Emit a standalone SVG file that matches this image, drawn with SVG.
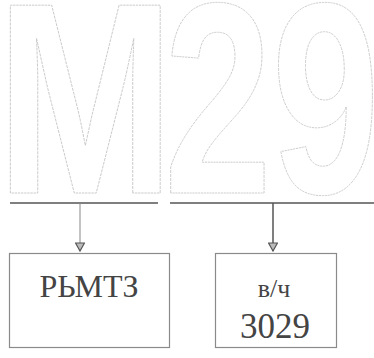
<svg xmlns="http://www.w3.org/2000/svg" width="374" height="358" viewBox="0 0 374 358">
<style>
.big{font-family:"Liberation Sans",Arial,sans-serif;font-weight:bold;font-size:273px;fill:none;stroke:#c4c4c4;stroke-width:1;stroke-dasharray:3 1}
.box{fill:none;stroke:#8a8a8a;stroke-width:1.2}
.lbl{fill:#444;text-anchor:middle;font-family:"Liberation Serif","Times New Roman",Tinos,"DejaVu Serif",serif;font-weight:normal}
.ln{stroke:#555;stroke-width:1.5;fill:none}
.ar{stroke:#888;stroke-width:1;fill:none}
</style>
<defs>
<marker id="tri" viewBox="0 0 10 10" refX="9" refY="5" markerWidth="10" markerHeight="10" markerUnits="userSpaceOnUse" orient="auto">
<path d="M1,0.5 L9,5 L1,9.5 Z" fill="#bbb" stroke="#555" stroke-width="1.2"/>
</marker>
</defs>
<g id="title">
<text class="big" transform="translate(-4,193) scale(0.785,1)" x="0" y="0">M</text>
<text class="big" transform="translate(164,193) scale(0.71,1)" x="0" y="0">29</text>
</g>
<g id="connectors">
<line class="ln" x1="10" y1="203" x2="158" y2="203"/>
<line class="ln" x1="170" y1="203" x2="374" y2="203"/>
<line class="ar" x1="80" y1="203" x2="80" y2="251" marker-end="url(#tri)"/>
<line class="ln" x1="273" y1="203" x2="273" y2="251" marker-end="url(#tri)"/>
</g>
<g id="node-rbmtz">
<rect class="box" x="9.5" y="253.5" width="160" height="94"/>
<text class="lbl" x="89" y="297" font-size="32">РЬМТЗ</text>
</g>
<g id="node-vch">
<rect class="box" x="215.5" y="253.5" width="121" height="94"/>
<text class="lbl" x="274" y="297" font-size="26">в/ч</text>
<text class="lbl" x="275" y="338" font-size="35">3029</text>
</g>
</svg>
